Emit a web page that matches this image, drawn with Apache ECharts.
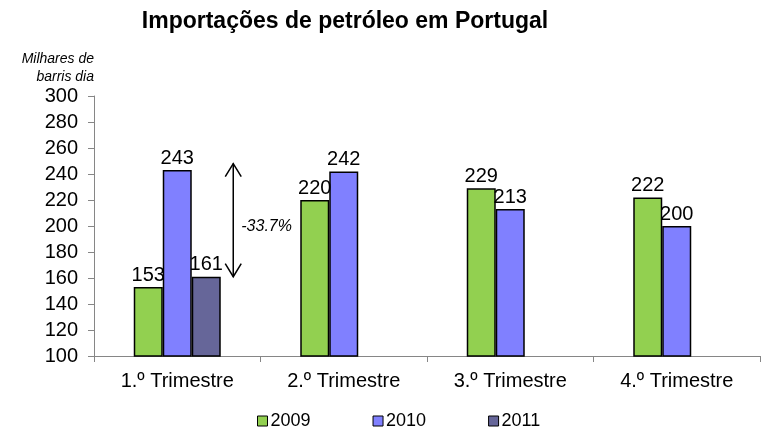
<!DOCTYPE html>
<html><head><meta charset="utf-8">
<script src="https://cdn.jsdelivr.net/npm/echarts@6/dist/echarts.min.js"></script>
<style>html,body{margin:0;padding:0;background:#fff}#c{width:761px;height:435px}</style>
</head><body><div id="c"></div>
<script>
var categories = ['1.º Trimestre', '2.º Trimestre', '3.º Trimestre', '4.º Trimestre'];
var s2009 = [153, 220, 229, 222];
var s2010 = [243, 242, 213, 200];
var s2011 = [161, null, null, null];
var yTicks = {min: 100, max: 300, interval: 20};
var changeLabel = '-33.7%';
var arrowTop = 248;

var font = 'Liberation Sans, Arial, sans-serif';
var chart = echarts.init(document.getElementById('c'), null, {renderer: 'canvas'});
function mk(name, data, color) {
  return {
    name: name, type: 'bar', data: data, barWidth: 29, barGap: '0%',
    itemStyle: {color: color, borderColor: '#000', borderWidth: 1.5},
    label: {show: true, position: 'top', distance: 2, color: '#000', fontSize: 20, fontFamily: font},
    animation: false
  };
}
chart.setOption({
  animation: false,
  title: {text: 'Importações de petróleo em Portugal', left: 340, textAlign: 'center', top: 5,
    textStyle: {fontSize: 23, fontWeight: 'bold', color: '#000', fontFamily: font}},
  grid: {left: 94, right: 1, top: 96, bottom: 79},
  legend: {bottom: 0, left: 252, itemWidth: 10, itemHeight: 10, itemGap: 62, icon: 'rect',
    data: ['2009', '2010', '2011'],
    textStyle: {fontSize: 18, color: '#000', fontFamily: font, padding: [0, 0, 0, -2]},
    itemStyle: {borderColor: '#000', borderWidth: 1}},
  xAxis: {type: 'category', data: categories,
    axisLine: {lineStyle: {color: '#868686', width: 1}},
    axisTick: {show: true, length: 6, lineStyle: {color: '#868686'}},
    axisLabel: {fontSize: 20, color: '#000', fontFamily: font, margin: 15}},
  yAxis: {type: 'value', min: yTicks.min, max: yTicks.max, interval: yTicks.interval,
    name: 'Milhares de\nbarris dia', nameLocation: 'end', nameGap: 8,
    nameTextStyle: {fontSize: 14, fontStyle: 'italic', color: '#000', fontFamily: font, align: 'right', padding: [0, 0, 0, 0], lineHeight: 18},
    axisLine: {show: true, lineStyle: {color: '#868686', width: 1}},
    axisTick: {show: true, length: 6, lineStyle: {color: '#868686'}},
    splitLine: {show: false},
    axisLabel: {fontSize: 20, color: '#000', fontFamily: font, margin: 16}},
  series: [mk('2009', s2009, '#92D050'), mk('2010', s2010, '#8080FF'), mk('2011', s2011, '#666699')]
});
var xc = chart.convertToPixel({xAxisIndex: 0}, 0);
var ax = xc + 56;
var yTop = chart.convertToPixel({yAxisIndex: 0}, arrowTop);
var yBot = chart.convertToPixel({yAxisIndex: 0}, s2011[0]);
chart.setOption({graphic: [
  {type: 'line', shape: {x1: ax, y1: yTop, x2: ax, y2: yBot}, style: {stroke: '#000', lineWidth: 1.5}},
  {type: 'polyline', shape: {points: [[ax - 8, yTop + 13], [ax, yTop], [ax + 8, yTop + 13]]}, style: {stroke: '#000', lineWidth: 1.5, fill: null}},
  {type: 'polyline', shape: {points: [[ax - 8, yBot - 13], [ax, yBot], [ax + 8, yBot - 13]]}, style: {stroke: '#000', lineWidth: 1.5, fill: null}},
  {type: 'text', x: ax + 8, y: (yTop + yBot) / 2 + 6, style: {text: changeLabel, fontSize: 16, fontStyle: 'italic', fill: '#000', fontFamily: font, textVerticalAlign: 'middle'}}
]});
</script></body></html>
